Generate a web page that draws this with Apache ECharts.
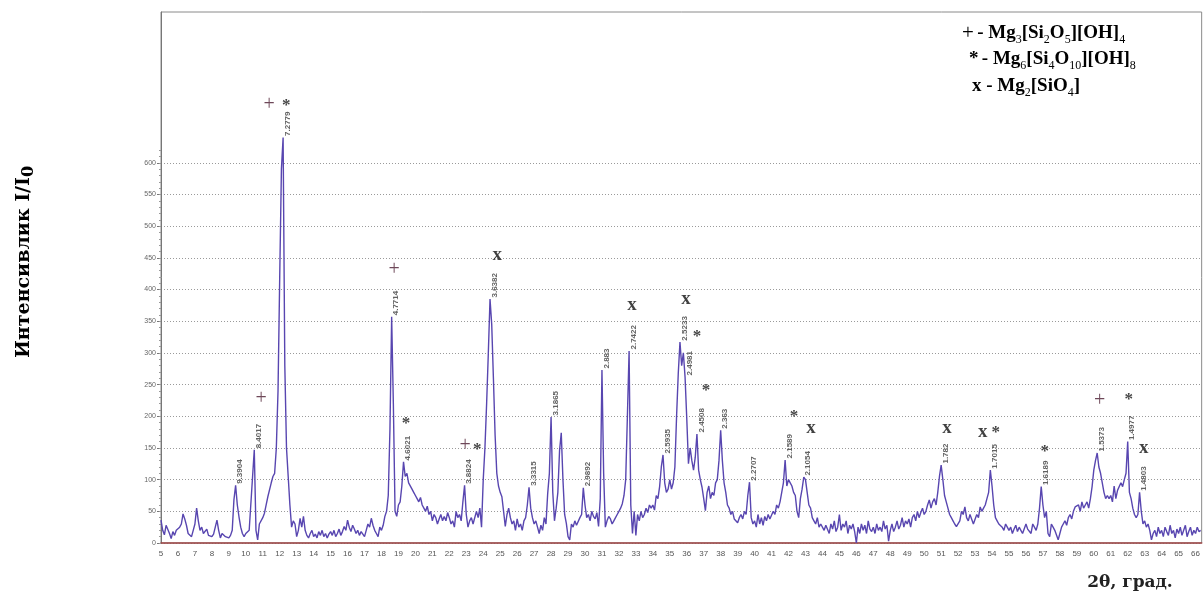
<!DOCTYPE html>
<html>
<head>
<meta charset="utf-8">
<script src="https://cdn.jsdelivr.net/npm/echarts@6/dist/echarts.min.js"></script>
<style>
  html, body { margin: 0; padding: 0; background: #fff; }
  #main { width: 1203px; height: 599px; }
</style>
</head>
<body>
<div id="main"></div>
<script>
// step scan: 2θ from 5.0 with 0.1° step, intensity
const startAngle = 5.0;
const stepAngle = 0.1;
const intensity = [
  36, 20, 13, 28, 26, 15, 7, 18, 12, 20,        // 5
  20, 25, 30, 46, 38, 28, 15, 12, 10, 20,       // 6
  30, 55, 35, 20, 25, 15, 18, 22, 12, 15,       // 7
  10, 14, 25, 36, 20, 8, 15, 12, 10, 12,        // 8
  8, 12, 20, 68, 91, 60, 41, 25, 15, 10,        // 9
  15, 12, 20, 20, 105, 147, 20, 5, 30, 31,      // 10
  40, 47, 60, 73, 70, 95, 105, 110, 150, 240,   // 11
  420, 590, 640, 280, 150, 105, 60, 25, 35, 30, // 12
  10, 20, 39, 25, 42, 20, 12, 8, 15, 20,        // 13
  10, 14, 8, 18, 12, 20, 10, 15, 8, 14,         // 14
  18, 12, 20, 10, 15, 22, 12, 18, 26, 20,       // 15
  36, 25, 18, 28, 22, 15, 20, 12, 18, 15,       // 16
  10, 20, 30, 25, 39, 28, 20, 15, 10, 25,       // 17
  20, 28, 42, 50, 75, 180, 357, 220, 50, 42,    // 18
  60, 65, 90, 128, 105, 110, 95, 95, 85, 80,    // 19
  75, 70, 65, 72, 60, 55, 50, 58, 45, 50,       // 20
  35, 45, 40, 30, 38, 45, 35, 42, 35, 48,       // 21
  40, 30, 35, 25, 50, 40, 45, 35, 65, 91,       // 22
  45, 25, 35, 40, 30, 28, 50, 40, 55, 25,       // 23
  100, 150, 220, 300, 385, 345, 260, 170, 110, 90, // 24
  80, 73, 50, 26, 45, 55, 40, 30, 35, 20,       // 25
  38, 25, 30, 20, 35, 40, 60, 88, 55, 40,       // 26
  30, 35, 25, 15, 28, 20, 40, 30, 78, 110,      // 27
  199, 80, 35, 55, 80, 146, 174, 100, 45, 31,   // 28
  10, 5, 30, 25, 35, 28, 30, 40, 45, 87,        // 29
  60, 40, 45, 35, 50, 42, 38, 48, 26, 70,       // 30
  273, 110, 25, 35, 42, 38, 30, 35, 40, 45,     // 31
  50, 55, 62, 75, 100, 200, 303, 60, 15, 50,    // 32
  12, 45, 35, 50, 40, 45, 55, 48, 60, 55,       // 33
  60, 52, 75, 70, 89, 120, 139, 95, 80, 85,     // 34
  100, 85, 95, 120, 200, 268, 317, 280, 300, 262, // 35
  197, 125, 150, 130, 115, 135, 172, 115, 100, 88, // 36
  70, 51, 80, 90, 70, 80, 75, 95, 100, 130,     // 37
  178, 130, 95, 80, 60, 55, 45, 50, 38, 40,     // 38
  32, 40, 45, 38, 50, 45, 75, 96, 40, 30,       // 39
  35, 25, 45, 30, 40, 28, 42, 35, 45, 38,       // 40
  40, 50, 45, 60, 55, 65, 80, 95, 131, 90,      // 41
  100, 95, 90, 80, 75, 50, 40, 70, 85, 104,     // 42
  100, 80, 60, 55, 40, 35, 30, 40, 25, 30,      // 43
  31, 20, 28, 25, 15, 30, 22, 35, 18, 25,       // 44
  45, 20, 30, 25, 35, 15, 28, 22, 30, 18,       // 45
  0, 25, 15, 30, 20, 28, 15, 35, 22, 18,        // 46
  25, 15, 30, 20, 25, 18, 35, 22, 28, 3,        // 47
  20, 30, 18, 25, 35, 22, 28, 40, 25, 35,       // 48
  30, 38, 25, 40, 45, 35, 50, 40, 48, 55,       // 49
  45, 50, 60, 68, 55, 65, 70, 60, 80, 105,      // 50
  123, 100, 75, 65, 55, 45, 40, 35, 30, 26,     // 51
  26, 35, 50, 45, 57, 40, 35, 45, 47, 30,       // 52
  30, 45, 40, 57, 50, 55, 60, 70, 80, 115,      // 53
  90, 60, 40, 35, 30, 28, 25, 20, 30, 25,       // 54
  20, 25, 15, 22, 28, 18, 25, 20, 15, 12,       // 55
  30, 22, 25, 15, 30, 25, 20, 30, 55, 89,       // 56
  60, 40, 50, 15, 10, 30, 25, 20, 22, 5,        // 57
  15, 25, 30, 35, 28, 40, 45, 38, 50, 57,       // 58
  55, 60, 50, 65, 55, 60, 65, 55, 70, 89,       // 59
  115, 130, 142, 120, 110, 95, 80, 70, 75, 70,  // 60
  75, 65, 90, 70, 83, 80, 95, 89, 100, 110,     // 61
  160, 80, 70, 55, 45, 40, 45, 80, 50, 30,      // 62
  35, 25, 30, 20, 5, 15, 20, 10, 25, 15,        // 63
  20, 10, 25, 18, 12, 28, 15, 20, 8, 22,        // 64
  15, 25, 12, 20, 28, 10, 18, 25, 12, 20,       // 65
  15, 25, 18, 20                                // 66
];

// peak position (2θ) and its d-spacing label
const peaks = [
  [9.4, '9.3904'], [10.5, '8.4017'], [12.2, '7.2779'], [18.6, '4.7714'],
  [19.3, '4.6021'], [22.9, '3.8824'], [24.4, '3.6382'], [26.7, '3.3315'],
  [28.0, '3.1865'], [29.9, '2.9892'], [31.0, '2.883'], [32.6, '2.7422'],
  [34.6, '2.5935'], [35.6, '2.5233'], [35.9, '2.4981'], [36.6, '2.4508'],
  [38.0, '2.363'], [39.7, '2.2707'], [41.8, '2.1589'], [42.9, '2.1054'],
  [51.0, '1.782'], [53.9, '1.7015'], [56.9, '1.6189'], [60.2, '1.5373'],
  [62.0, '1.4977'], [62.7, '1.4803']
];

// phase marks: 2θ, intensity level, symbol
const phaseMarks = [
  [11.38, 692, '+'], [12.38, 690, '*'], [18.75, 431, '+'], [10.91, 227, '+'],
  [19.45, 188, '*'], [22.93, 153, '+'], [23.64, 147, '*'], [24.82, 455, 'x'],
  [32.77, 376, 'x'], [35.95, 385, 'x'], [36.6, 325, '*'], [37.13, 240, '*'],
  [42.32, 199, '*'], [43.32, 182, 'x'], [51.34, 182, 'x'], [53.46, 175, 'x'],
  [54.22, 175, '*'], [57.11, 145, '*'], [60.35, 224, '+'], [62.06, 226, '*'],
  [62.95, 150, 'x']
];

const yTickValues = [0, 50, 100, 150, 200, 250, 300, 350, 400, 450, 500, 550, 600];
const yMinorTicks = [];
for (let v = 0; v <= 620; v += 10) yMinorTicks.push(v);

const pattern = intensity.map((v, i) => [+(startAngle + i * stepAngle).toFixed(1), v]);
const peakPoints = peaks.map(p => {
  const i = Math.round((p[0] - startAngle) / stepAngle);
  return [p[0], intensity[i], p[1]];
});

const markStyle = {
  '+': { fontFamily: 'Liberation Serif', fontSize: 20, fontWeight: 'normal', color: '#4a1a30' },
  '*': { fontFamily: 'Liberation Serif', fontSize: 17, fontWeight: 'bold', color: '#111' },
  'x': { fontFamily: 'Liberation Serif', fontSize: 19, fontWeight: 'bold', color: '#111' }
};

const chartDom = document.getElementById('main');
const myChart = echarts.init(chartDom);

const option = {
  animation: false,
  backgroundColor: '#fff',
  grid: {
    left: 161, right: 0, top: 12, bottom: 56,
    show: true, borderColor: '#8a8a8a', borderWidth: 1
  },
  xAxis: {
    type: 'value', min: 5, max: 66.36, interval: 1,
    axisLine: { lineStyle: { color: '#a04646', width: 1.5 } },
    axisTick: { show: false },
    axisLabel: {
      fontSize: 8, color: '#555', margin: 7, showMaxLabel: false,
      fontFamily: 'Liberation Sans',
      formatter: v => (Math.abs(v - Math.round(v)) < 1e-6 ? String(Math.round(v)) : '')
    },
    splitLine: { show: false }
  },
  yAxis: [
    {
      type: 'value', min: 0, max: 838, interval: 50,
      axisLine: { show: true, lineStyle: { color: '#777' } },
      axisTick: { show: true, customValues: yTickValues, length: 4, lineStyle: { color: '#777' } },
      axisLabel: {
        customValues: yTickValues, fontSize: 7, color: '#666', margin: 5,
        fontFamily: 'Liberation Sans'
      },
      splitLine: { show: true, lineStyle: { type: [1, 2], color: '#9a9a9a', width: 1 } }
    },
    {
      // minor ticks on the left axis
      type: 'value', min: 0, max: 838, position: 'left',
      axisLine: { show: false },
      axisTick: { show: true, customValues: yMinorTicks, length: 2, lineStyle: { color: '#999' } },
      axisLabel: { show: false },
      splitLine: { show: false }
    }
  ],
  series: [
    {
      name: 'pattern',
      type: 'line',
      data: pattern,
      showSymbol: false,
      lineStyle: { color: '#5846b0', width: 1.4 },
      z: 3
    },
    {
      name: 'd',
      type: 'scatter',
      data: peakPoints,
      symbolSize: 1,
      itemStyle: { color: 'rgba(0,0,0,0)' },
      label: {
        show: true,
        formatter: p => p.data[2],
        rotate: 90,
        position: [5, -1],
        align: 'left',
        verticalAlign: 'middle',
        fontSize: 8,
        fontWeight: 'bold',
        fontFamily: 'Liberation Sans',
        color: '#3a3a3a'
      },
      z: 4
    },
    {
      name: 'phases',
      type: 'scatter',
      data: phaseMarks.map(m => ({ value: m, label: markStyle[m[2]] })),
      symbolSize: 1,
      itemStyle: { color: 'rgba(0,0,0,0)' },
      label: {
        show: true,
        position: 'inside',
        formatter: p => p.data.value[2]
      },
      z: 5
    }
  ],
  graphic: [
    {
      type: 'text', left: 962, top: 23,
      style: {
        text: '{p|+} {b|- Mg}{s|3}{b|[Si}{s|2}{b|O}{s|5}{b|][OH]}{s|4}',
        rich: {
          p: { fontFamily: 'Liberation Serif', fontSize: 21, color: '#111', lineHeight: 24 },
          b: { fontFamily: 'Liberation Serif', fontSize: 19, fontWeight: 'bold', color: '#111', lineHeight: 24 },
          s: { fontFamily: 'Liberation Serif', fontSize: 12, color: '#111', verticalAlign: 'bottom', lineHeight: 24 }
        }
      }
    },
    {
      type: 'text', left: 969, top: 50,
      style: {
        text: '{b|*} {b|- Mg}{s|6}{b|[Si}{s|4}{b|O}{s|10}{b|][OH]}{s|8}',
        rich: {
          b: { fontFamily: 'Liberation Serif', fontSize: 19, fontWeight: 'bold', color: '#111', lineHeight: 24 },
          s: { fontFamily: 'Liberation Serif', fontSize: 12, color: '#111', verticalAlign: 'bottom', lineHeight: 24 }
        }
      }
    },
    {
      type: 'text', left: 972, top: 77,
      style: {
        text: '{b|x - Mg}{s|2}{b|[SiO}{s|4}{b|]}',
        rich: {
          b: { fontFamily: 'Liberation Serif', fontSize: 19, fontWeight: 'bold', color: '#111', lineHeight: 24 },
          s: { fontFamily: 'Liberation Serif', fontSize: 12, color: '#111', verticalAlign: 'bottom', lineHeight: 24 }
        }
      }
    },
    {
      type: 'text', x: 24, y: 262, rotation: Math.PI / 2,
      style: {
        text: '{a|Интенсивлик I/I}{s|0}',
        align: 'center', verticalAlign: 'middle',
        rich: {
          a: { fontFamily: 'DejaVu Serif', fontSize: 19, fontWeight: 'bold', color: '#222', lineHeight: 26 },
          s: { fontFamily: 'DejaVu Serif', fontSize: 16, fontWeight: 'bold', color: '#222', verticalAlign: 'bottom', lineHeight: 26 }
        }
      }
    },
    {
      type: 'text', x: 1130, y: 583,
      style: {
        text: '2θ, град.',
        align: 'center', verticalAlign: 'middle',
        fontFamily: 'DejaVu Serif', fontSize: 17, fontWeight: 'bold', fill: '#222'
      }
    }
  ]
};

option && myChart.setOption(option);
</script>
</body>
</html>
